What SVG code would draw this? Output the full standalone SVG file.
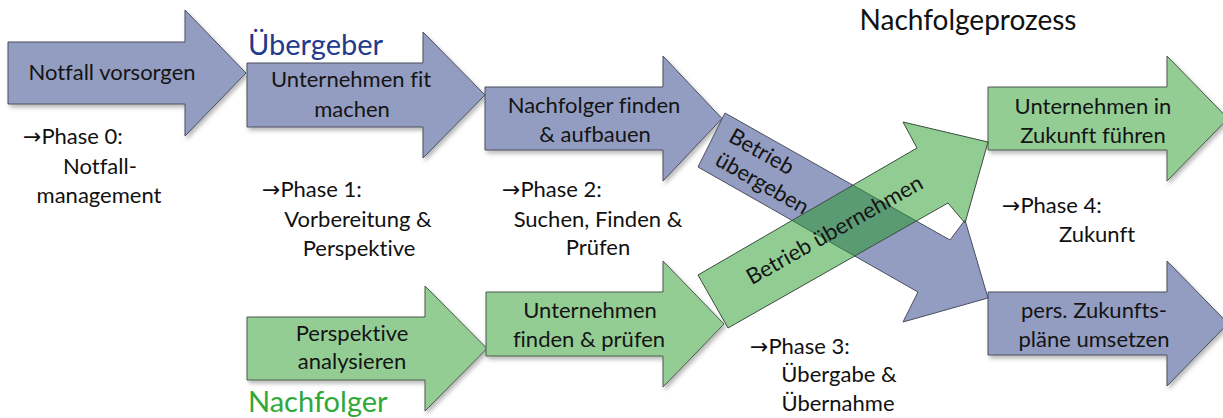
<svg xmlns="http://www.w3.org/2000/svg" width="1223" height="418" viewBox="0 0 1223 418">
<style>
text{font-variant-ligatures:none;font-feature-settings:"liga" 0,"dlig" 0}
.blue{fill:#939dc1;stroke:#4a4f5e;stroke-width:1}
.green{fill:#93cd94;stroke:#4a5a4a;stroke-width:1}
.t{font-family:Lato,"Liberation Sans","DejaVu Sans",sans-serif;font-size:22px;fill:#141414}
.c{text-anchor:middle}
.ph{font-family:Lato,"Liberation Sans","DejaVu Sans",sans-serif;font-size:22px;fill:#111}
.ar{font-family:"DejaVu Sans",sans-serif;font-size:22px;font-weight:normal}
.title{font-family:Lato,"Liberation Sans",sans-serif;font-size:29px}
</style>
<defs>
<filter id="sh" x="-10%" y="-10%" width="125%" height="135%">
<feDropShadow dx="2" dy="3" stdDeviation="2" flood-color="#000" flood-opacity="0.28"/>
</filter>
</defs>
<rect width="1223" height="418" fill="#fff"/>

<g id="n-notfall">
<polygon class="blue" filter="url(#sh)" points="8,42 185,42 185,10 246,73 185,136 185,104 8,104"/>
<text class="t c" x="112" y="80">Notfall vorsorgen</text>
</g>
<g id="n-fit">
<polygon class="blue" filter="url(#sh)" points="247,63 423,63 423,32 485,95 423,158 423,127 247,127"/>
<text class="t c" x="351" y="87">Unternehmen fit</text>
<text class="t c" x="352" y="117">machen</text>
</g>
<g id="n-finden">
<polygon class="blue" filter="url(#sh)" points="485,87 663,87 663,56 722,118.5 663,181 663,150 485,150"/>
<text class="t c" x="594" y="113">Nachfolger finden</text>
<text class="t c" x="595" y="142">&amp; aufbauen</text>
</g>
<g id="n-perspektive">
<polygon class="green" filter="url(#sh)" points="247,317 425,317 425,286 487,348.5 425,411 425,380 247,380"/>
<text class="t c" x="352" y="341">Perspektive</text>
<text class="t c" x="352" y="369">analysieren</text>
</g>
<g id="n-unternehmen-finden">
<polygon class="green" filter="url(#sh)" points="486,292 663,292 663,261 724,324 663,387 663,356 486,356"/>
<text class="t c" x="590" y="318">Unternehmen</text>
<text class="t c" x="589" y="347">finden &amp; prüfen</text>
</g>
<g id="n-zukunft-fuehren">
<polygon class="green" filter="url(#sh)" points="988,87 1167,87 1167,56 1228,118.5 1167,181 1167,150 988,150"/>
<text class="t c" x="1093" y="114">Unternehmen in</text>
<text class="t c" x="1093" y="143">Zukunft führen</text>
</g>
<g id="n-zukunftsplaene">
<polygon class="blue" filter="url(#sh)" points="988,292 1167,292 1167,261 1228,323.5 1167,386 1167,355 988,355"/>
<text class="t c" x="1094" y="318">pers. Zukunfts-</text>
<text class="t c" x="1094" y="347">pläne umsetzen</text>
</g>

<g id="phase0">
<text class="ph" x="23" y="144"><tspan class="ar">→</tspan>Phase 0:</text>
<text class="ph c" x="100" y="174">Notfall-</text>
<text class="ph c" x="99" y="203">management</text>
</g>
<g id="phase1">
<text class="ph" x="262" y="197"><tspan class="ar">→</tspan>Phase 1:</text>
<text class="ph c" x="358" y="227">Vorbereitung &amp;</text>
<text class="ph c" x="359" y="256">Perspektive</text>
</g>
<g id="phase2">
<text class="ph" x="502" y="197"><tspan class="ar">→</tspan>Phase 2:</text>
<text class="ph c" x="598" y="227">Suchen, Finden &amp;</text>
<text class="ph c" x="598" y="255">Prüfen</text>
</g>
<g id="phase3">
<text class="ph" x="750" y="354"><tspan class="ar">→</tspan>Phase 3:</text>
<text class="ph c" x="839" y="382">Übergabe &amp;</text>
<text class="ph c" x="838" y="411">Übernahme</text>
</g>
<g id="phase4">
<text class="ph" x="1002" y="213"><tspan class="ar">→</tspan>Phase 4:</text>
<text class="ph c" x="1097" y="242">Zukunft</text>
</g>

<g id="titles">
<text class="title" x="248" y="55" fill="#223a8c">Übergeber</text>
<text class="title" x="248" y="412" fill="#2fa83a">Nachfolger</text>
<text class="title" x="968" y="30" text-anchor="middle" fill="#111" style="font-size:28px">Nachfolgeprozess</text>
</g>

<g id="n-betrieb-uebergeben">
<polygon class="blue" points="725,113 950,240 965,220 988,298 903,322 918,292 698,167"/>
<g transform="translate(711.5,140) rotate(29.5)">
<text class="t" x="14" y="-7">Betrieb</text>
<text class="t" x="14" y="20">übergeben</text>
</g>
</g>
<g id="n-betrieb-uebernehmen">
<polygon points="728,328 948,203 965,223 988,142 903,122 917,148 698,275" fill="#239a28" fill-opacity="0.5" stroke="#3d4d3d" stroke-width="1"/>
<g transform="translate(713,301.5) rotate(-29.5)">
<text class="t c" x="141" y="5">Betrieb übernehmen</text>
</g>
</g>

<g id="connectors"/>
</svg>
